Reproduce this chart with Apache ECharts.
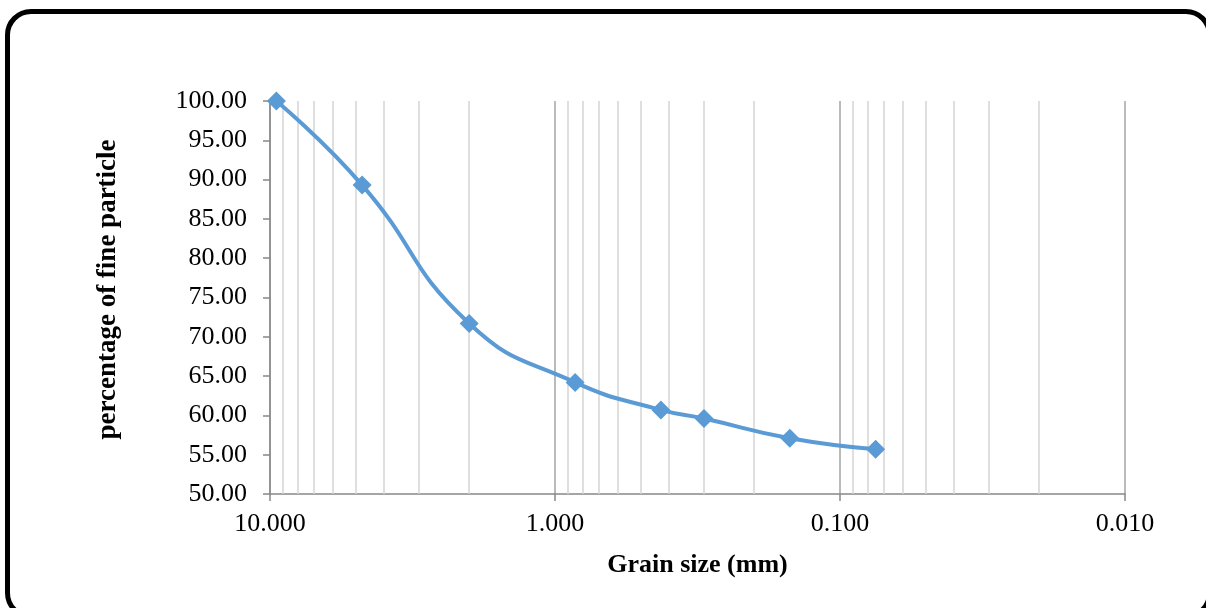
<!DOCTYPE html>
<html>
<head>
<meta charset="utf-8">
<script src="https://cdn.jsdelivr.net/npm/echarts@6/dist/echarts.min.js"></script>
<style>
  html, body { margin: 0; padding: 0; background: #fff; }
  #frame {
    position: absolute; left: 5px; top: 9px; width: 1197px; height: 600px;
    border: 5px solid #000; border-radius: 26px; pointer-events: none;
  }
  #chart { position: absolute; left: 0; top: 0; width: 1206px; height: 608px; }
</style>
</head>
<body>
<div id="chart"></div>
<div id="frame"></div>
<script>
  // grain size (mm) and percent passing
  var grainSize = [9.5, 4.75, 2.0, 0.85, 0.425, 0.3, 0.15, 0.075];
  var percentFine = [100.0, 89.3, 71.7, 64.2, 60.7, 59.6, 57.1, 55.7];
  // log grid lines between decades
  var decades = [1, 0.1, 0.01];
  var multipliers = [2, 3, 4, 5, 6, 7, 8, 9];

  var points = grainSize.map(function (g, i) { return [g, percentFine[i]]; });
  var minorLines = [];
  decades.forEach(function (d) {
    multipliers.forEach(function (m) { minorLines.push({xAxis: +(m * d).toPrecision(3)}); });
  });

  var serif = 'Liberation Serif';
  var chart = echarts.init(document.getElementById('chart'));
  var option = {
    animation: false,
    grid: {left: 270, right: 81, top: 101, bottom: 114},
    xAxis: {
      type: 'log',
      logBase: 10,
      min: 0.01,
      max: 10,
      inverse: true,
      name: 'Grain size (mm)',
      nameLocation: 'middle',
      nameGap: 58,
      nameTextStyle: {fontFamily: serif, fontWeight: 'bold', fontSize: 26, color: '#000'},
      axisLine: {show: true, lineStyle: {color: '#888', width: 1.5}},
      axisTick: {show: true, length: 7, lineStyle: {color: '#888', width: 1.5}},
      axisLabel: {
        fontFamily: serif, fontSize: 26, color: '#000', margin: 17,
        formatter: function (v) { return Number(v).toFixed(3); }
      },
      splitLine: {show: true, lineStyle: {color: '#a3a3a3', width: 1.5}},
      minorTick: {show: false},
      minorSplitLine: {show: false}
    },
    yAxis: {
      type: 'value',
      min: 50,
      max: 100,
      interval: 5,
      name: 'percentage of fine particle',
      nameLocation: 'middle',
      nameGap: 148,
      nameTextStyle: {fontFamily: serif, fontWeight: 'bold', fontSize: 27, color: '#000', padding: [0, 0, 0, 16]},
      axisLine: {show: true, lineStyle: {color: '#888', width: 1.5}},
      axisTick: {show: true, length: 7, lineStyle: {color: '#888', width: 1.5}},
      axisLabel: {
        fontFamily: serif, fontSize: 26, color: '#000', margin: 23,
        formatter: function (v) { return v.toFixed(2); }
      },
      splitLine: {show: false}
    },
    series: [
      {
        type: 'line',
        data: [],
        silent: true,
        markLine: {
          silent: true,
          symbol: ['none', 'none'],
          label: {show: false},
          lineStyle: {color: '#d4d4d4', width: 1.5, type: 'solid'},
          data: minorLines
        }
      },
      {
        type: 'line',
        data: points,
        smooth: 0.5,
        clip: false,
        symbol: 'diamond',
        symbolSize: 19,
        lineStyle: {color: '#5B9BD5', width: 4},
        itemStyle: {color: '#5B9BD5'},
        z: 5
      }
    ]
  };
  chart.setOption(option);
</script>
</body>
</html>
